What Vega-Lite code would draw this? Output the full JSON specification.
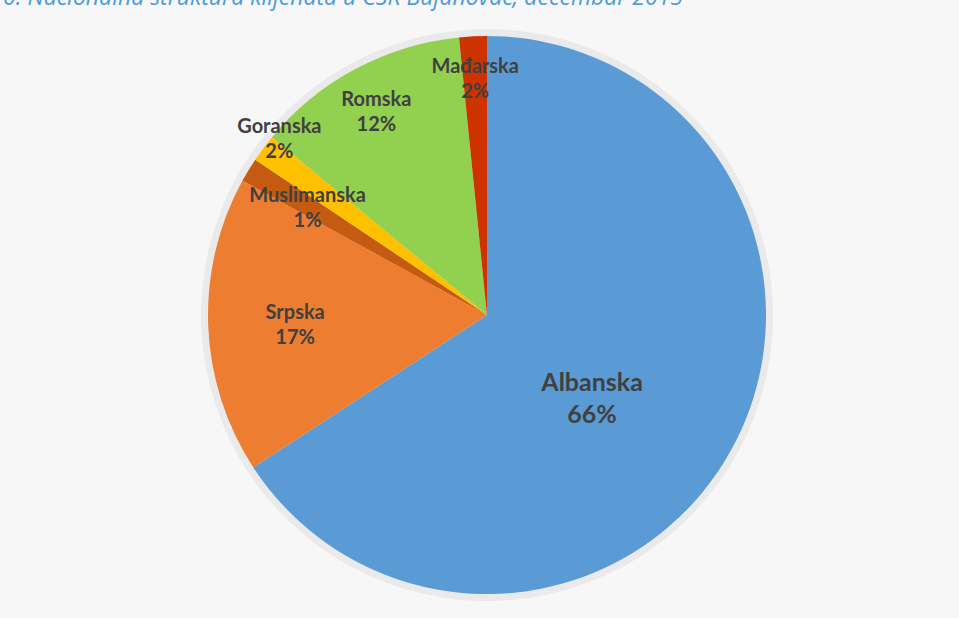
{
  "$schema": "https://vega.github.io/schema/vega-lite/v6.json",
  "width": 944,
  "height": 606,
  "autosize": {"type": "none"},
  "padding": {"left": 15, "top": 12, "right": 0, "bottom": 0},
  "background": "#f7f7f7",
  "view": {"stroke": null},
  "title": {
    "text": "Slika 10: Nacionalna struktura klijenata u CSR Bujanovac, decembar 2015",
    "anchor": "start",
    "frame": "group",
    "font": "Open Sans",
    "fontStyle": "italic",
    "fontWeight": "normal",
    "fontSize": 23,
    "color": "#4E9BD6",
    "baseline": "top",
    "offset": 0,
    "dy": 3,
    "dx": -78
  },
  "data": {
    "values": [
      {"name": "Albanska", "value": 65.8, "ord": 1},
      {"name": "Srpska", "value": 17.2, "ord": 2},
      {"name": "Muslimanska", "value": 1.4, "ord": 3},
      {"name": "Goranska", "value": 1.6, "ord": 4},
      {"name": "Romska", "value": 12.4, "ord": 5},
      {"name": "Mađarska", "value": 1.6, "ord": 6}
    ]
  },
  "transform": [
    {"calculate": "datum.name + '\\n' + format(datum.value / 100, '.0%')", "as": "label"}
  ],
  "encoding": {
    "theta": {"field": "value", "type": "quantitative", "stack": true},
    "order": {"field": "ord", "type": "quantitative"}
  },
  "layer": [
    {
      "mark": {"type": "arc", "outerRadius": 286, "fill": "#000000", "fillOpacity": 0.05, "stroke": null}
    },
    {
      "mark": {"type": "arc", "outerRadius": 279, "stroke": null},
      "encoding": {
        "color": {
          "field": "name",
          "type": "nominal",
          "scale": {
            "domain": ["Albanska", "Srpska", "Muslimanska", "Goranska", "Romska", "Mađarska"],
            "range": ["#5B9BD5", "#ED7D31", "#C55A11", "#FFC000", "#92D050", "#CC3300"]
          },
          "legend": null
        }
      }
    },
    {
      "mark": {"type": "text", "radius": 132, "dx": -11, "dy": 5, "font": "Lato", "fontWeight": "bold", "fontSize": 25, "lineHeight": 32, "lineBreak": "\n", "color": "#404040", "align": "center", "baseline": "middle"},
      "encoding": {"text": {"condition": {"test": "datum.name === 'Albanska'", "field": "label"}, "value": ""}}
    },
    {
      "mark": {"type": "text", "radius": 192, "dy": -9, "font": "Lato", "fontWeight": "bold", "fontSize": 20, "lineHeight": 25, "lineBreak": "\n", "color": "#404040", "align": "center", "baseline": "middle"},
      "encoding": {"text": {"condition": {"test": "datum.name === 'Srpska'", "field": "label"}, "value": ""}}
    },
    {
      "mark": {"type": "text", "radius": 210, "dy": -10, "font": "Lato", "fontWeight": "bold", "fontSize": 20, "lineHeight": 25, "lineBreak": "\n", "color": "#404040", "align": "center", "baseline": "middle"},
      "encoding": {"text": {"condition": {"test": "datum.name === 'Muslimanska'", "field": "label"}, "value": ""}}
    },
    {
      "mark": {"type": "text", "radius": 274, "dx": 12, "dy": -24, "font": "Lato", "fontWeight": "bold", "fontSize": 20, "lineHeight": 25, "lineBreak": "\n", "color": "#404040", "align": "center", "baseline": "middle"},
      "encoding": {"text": {"condition": {"test": "datum.name === 'Goranska'", "field": "label"}, "value": ""}}
    },
    {
      "mark": {"type": "text", "radius": 235, "dy": -8, "font": "Lato", "fontWeight": "bold", "fontSize": 20, "lineHeight": 25, "lineBreak": "\n", "color": "#404040", "align": "center", "baseline": "middle"},
      "encoding": {"text": {"condition": {"test": "datum.name === 'Romska'", "field": "label"}, "value": ""}}
    },
    {
      "mark": {"type": "text", "radius": 235, "dy": -13, "font": "Lato", "fontWeight": "bold", "fontSize": 20, "lineHeight": 25, "lineBreak": "\n", "color": "#404040", "align": "center", "baseline": "middle"},
      "encoding": {"text": {"condition": {"test": "datum.name === 'Mađarska'", "field": "label"}, "value": ""}}
    }
  ]
}
